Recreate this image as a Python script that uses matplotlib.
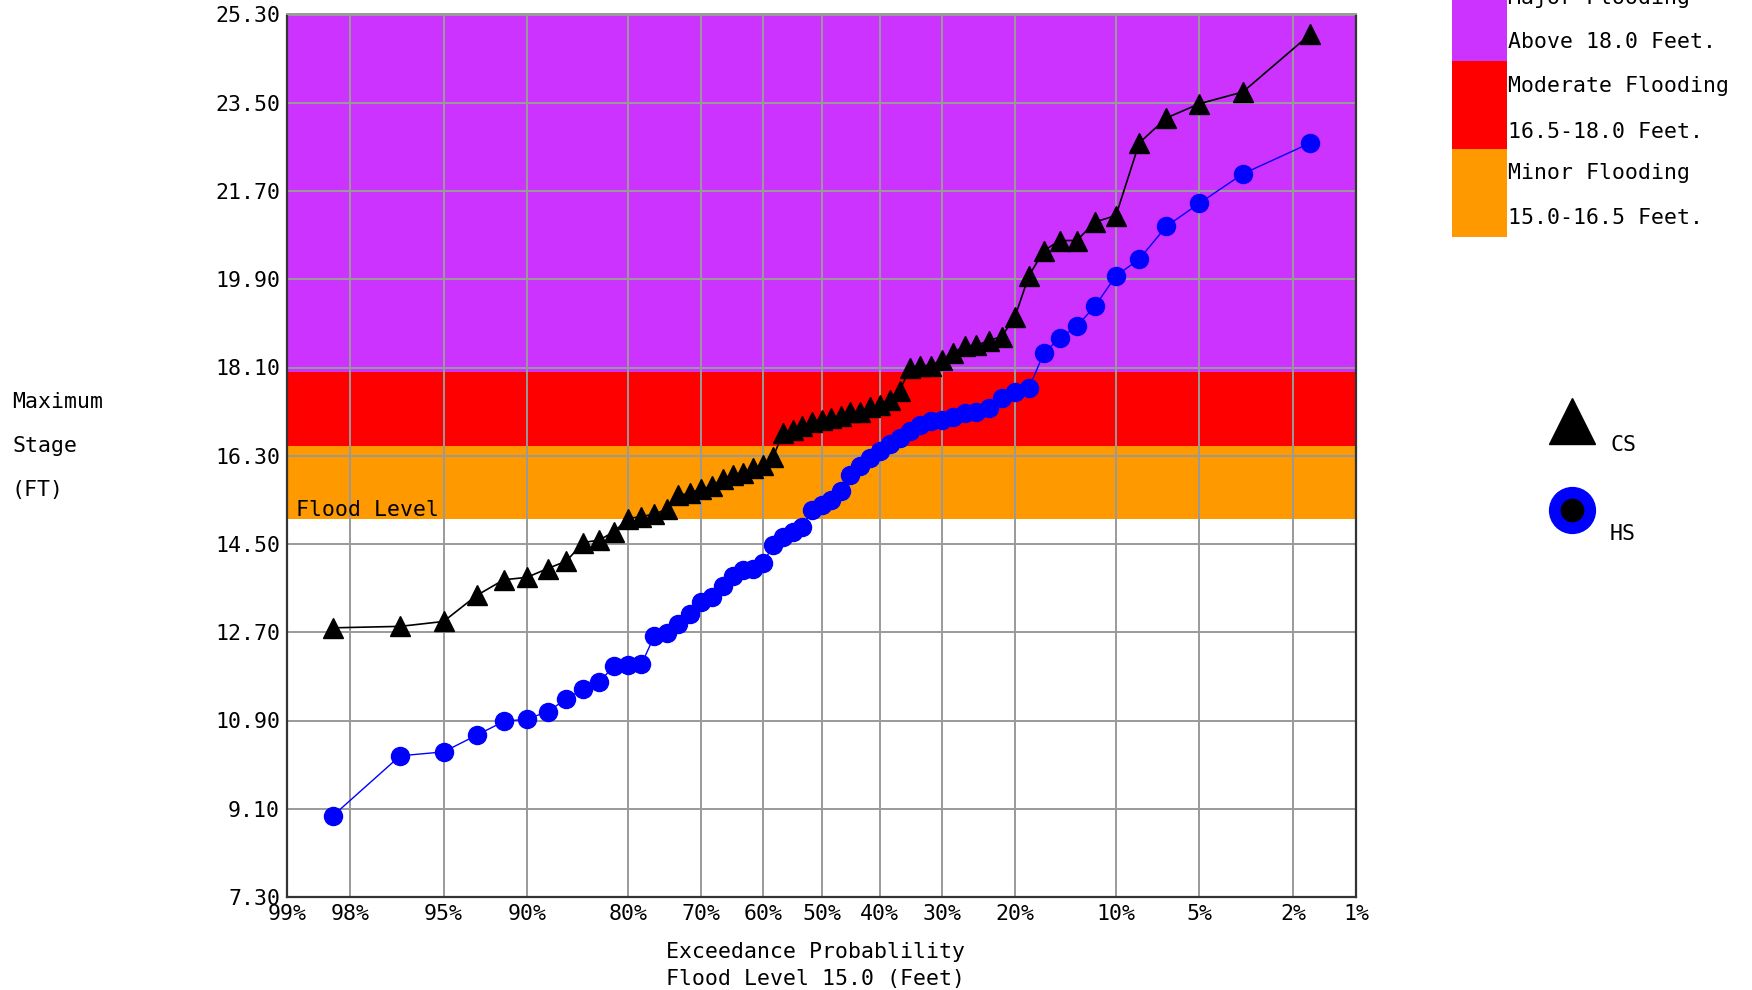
import matplotlib
matplotlib.use("Agg")
import matplotlib.pyplot as plt
import matplotlib.lines as mlines
from matplotlib.patches import Rectangle
from matplotlib.ticker import FixedLocator, FixedFormatter
import numpy as np
from statistics import NormalDist

# ---------------- data ----------------
# sorted annual maximum stages (ft), lowest first
cs_stage = [12.79, 12.82, 12.92, 13.45, 13.77, 13.82, 14.00, 14.15, 14.53, 14.58,
            14.75, 15.02, 15.06, 15.11, 15.21, 15.49, 15.54, 15.62, 15.68, 15.83,
            15.91, 15.95, 16.05, 16.12, 16.27, 16.77, 16.82, 16.91, 16.99, 17.02,
            17.06, 17.12, 17.19, 17.20, 17.29, 17.33, 17.43, 17.63, 18.09, 18.14,
            18.14, 18.26, 18.40, 18.54, 18.55, 18.65, 18.73, 19.13, 19.97, 20.48,
            20.69, 20.69, 21.07, 21.20, 22.68, 23.19, 23.48, 23.72, 24.90]
hs_stage = [8.95, 10.18, 10.26, 10.60, 10.88, 10.93, 11.08, 11.34, 11.55, 11.68,
            12.02, 12.03, 12.05, 12.62, 12.69, 12.87, 13.08, 13.32, 13.42, 13.65,
            13.84, 13.96, 13.98, 14.12, 14.47, 14.64, 14.74, 14.84, 15.20, 15.29,
            15.40, 15.58, 15.90, 16.10, 16.25, 16.40, 16.53, 16.66, 16.80, 16.93,
            17.00, 17.03, 17.10, 17.17, 17.20, 17.27, 17.48, 17.61, 17.68, 18.39,
            18.70, 18.94, 19.36, 19.97, 20.31, 20.98, 21.45, 22.05, 22.68]
prob_ticks = [99, 98, 95, 90, 80, 70, 60, 50, 40, 30, 20, 10, 5, 2, 1]
prob_labels = ["99%", "98%", "95%", "90%", "80%", "70%", "60%", "50%", "40%",
               "30%", "20%", "10%", "5%", "2%", "1%"]
stage_ticks = [7.30, 9.10, 10.90, 12.70, 14.50, 16.30, 18.10, 19.90, 21.70, 23.50, 25.30]
minor_flood = (15.0, 16.5)
moderate_flood = (16.5, 18.0)
major_flood = (18.0, 25.3)
legend_lines = ["Major Flooding", "Above 18.0 Feet.", "Moderate Flooding",
                "16.5-18.0 Feet.", "Minor Flooding", "15.0-16.5 Feet."]

# Weibull plotting positions (exceedance %, lowest stage -> highest exceedance)
def plotting_positions(values):
    n = len(values)
    rank = np.arange(1, n + 1)
    return 100.0 * (1.0 - rank / (n + 1.0))

cs_exc = plotting_positions(cs_stage)
hs_exc = plotting_positions(hs_stage)

# ---------------- normal probability scale ----------------
ND = NormalDist()
_inv = np.vectorize(ND.inv_cdf, otypes=[float])
_cdf = np.vectorize(ND.cdf, otypes=[float])


def fwd(p):
    p = np.asarray(p, dtype=float)
    q = np.clip(p / 100.0, 1e-9, 1 - 1e-9)
    return _inv(q)


def inv(z):
    z = np.asarray(z, dtype=float)
    return 100.0 * _cdf(z)


W, H = 1752, 990
FONT = "DejaVu Sans Mono"
FS = 15.5
plt.rcParams["font.family"] = [FONT]

fig = plt.figure(figsize=(W / 100, H / 100), dpi=100)
fig.patch.set_facecolor("white")


def fx(x):
    return x / W


def fy(y):
    return 1 - y / H


L, R, T, B = 287, 1356, 14.5, 897
ax = fig.add_axes([fx(L), fy(B), (R - L) / W, (B - T) / H])
ax.set_xscale("function", functions=(fwd, inv))
ax.set_xlim(99, 1)
ax.set_ylim(7.3, 25.3)

PURPLE = "#cc33ff"
RED = "#ff0000"
ORANGE = "#ff9900"
BLUE = "#0000ff"

ax.axhspan(*major_flood, color=PURPLE, zorder=0.2, lw=0)
ax.axhspan(*moderate_flood, color=RED, zorder=0.2, lw=0)
ax.axhspan(*minor_flood, color=ORANGE, zorder=0.2, lw=0)

ax.xaxis.set_major_locator(FixedLocator(prob_ticks))
ax.xaxis.set_major_formatter(FixedFormatter(prob_labels))
ax.xaxis.set_minor_locator(FixedLocator([]))
ax.yaxis.set_major_locator(FixedLocator(stage_ticks))
ax.yaxis.set_major_formatter(FixedFormatter([f"{v:.2f}" for v in stage_ticks]))
ax.set_axisbelow(True)
ax.grid(True, color="#9a9a9a", lw=1.4)
ax.tick_params(length=0, labelsize=FS, colors="black")
ax.tick_params(axis="x", pad=5)
ax.tick_params(axis="y", pad=5)

for s in ["left", "bottom", "right"]:
    ax.spines[s].set_color("#333333")
    ax.spines[s].set_linewidth(1.6)
ax.spines["top"].set_color("#9a9a9a")
ax.spines["top"].set_linewidth(1.4)

ax.plot(cs_exc, cs_stage, color="black", lw=1.2, marker="^", ms=14,
        mfc="black", mec="black", zorder=3)
ax.plot(hs_exc, hs_stage, color=BLUE, lw=1.0, marker="o", ms=13,
        mfc=BLUE, mec=BLUE, zorder=3)

ax.text(9 / (R - L), 15.07, "Flood Level", transform=ax.get_yaxis_transform(),
        ha="left", va="baseline", fontsize=FS, color="black", zorder=4)

# axis titles
for txt, y in [("Maximum", 402), ("Stage", 446), ("(FT)", 490)]:
    fig.text(fx(12), fy(y), txt, ha="left", va="center", fontsize=FS)
fig.text(fx(815), fy(952), "Exceedance Probablility", ha="center", va="center", fontsize=FS)
fig.text(fx(815), fy(979), "Flood Level 15.0 (Feet)", ha="center", va="center", fontsize=FS)

# flood category legend
for (y0, y1), col in [((-27, 61), PURPLE), ((61, 149), RED), ((149, 237), ORANGE)]:
    fig.add_artist(Rectangle((fx(1452), fy(y1)), (1507 - 1452) / W, (y1 - y0) / H,
                             transform=fig.transFigure, color=col, lw=0))
for txt, y in zip(legend_lines, [-2, 42, 86, 132, 173, 218]):
    fig.text(fx(1508), fy(y), txt, ha="left", va="center", fontsize=FS)

# series legend
fig.add_artist(mlines.Line2D([fx(1572)], [fy(421)], marker="^", ms=33, color="black",
                             mec="black", transform=fig.transFigure))
fig.text(fx(1610), fy(445), "CS", ha="left", va="center", fontsize=FS)
fig.add_artist(mlines.Line2D([fx(1572)], [fy(510)], marker="o", ms=33, color=BLUE,
                             mec=BLUE, transform=fig.transFigure))
fig.add_artist(mlines.Line2D([fx(1572)], [fy(510)], marker="o", ms=16, color="black",
                             mec="black", transform=fig.transFigure))
fig.text(fx(1610), fy(534), "HS", ha="left", va="center", fontsize=FS)

fig.savefig("out.png", dpi=100, facecolor="white")
